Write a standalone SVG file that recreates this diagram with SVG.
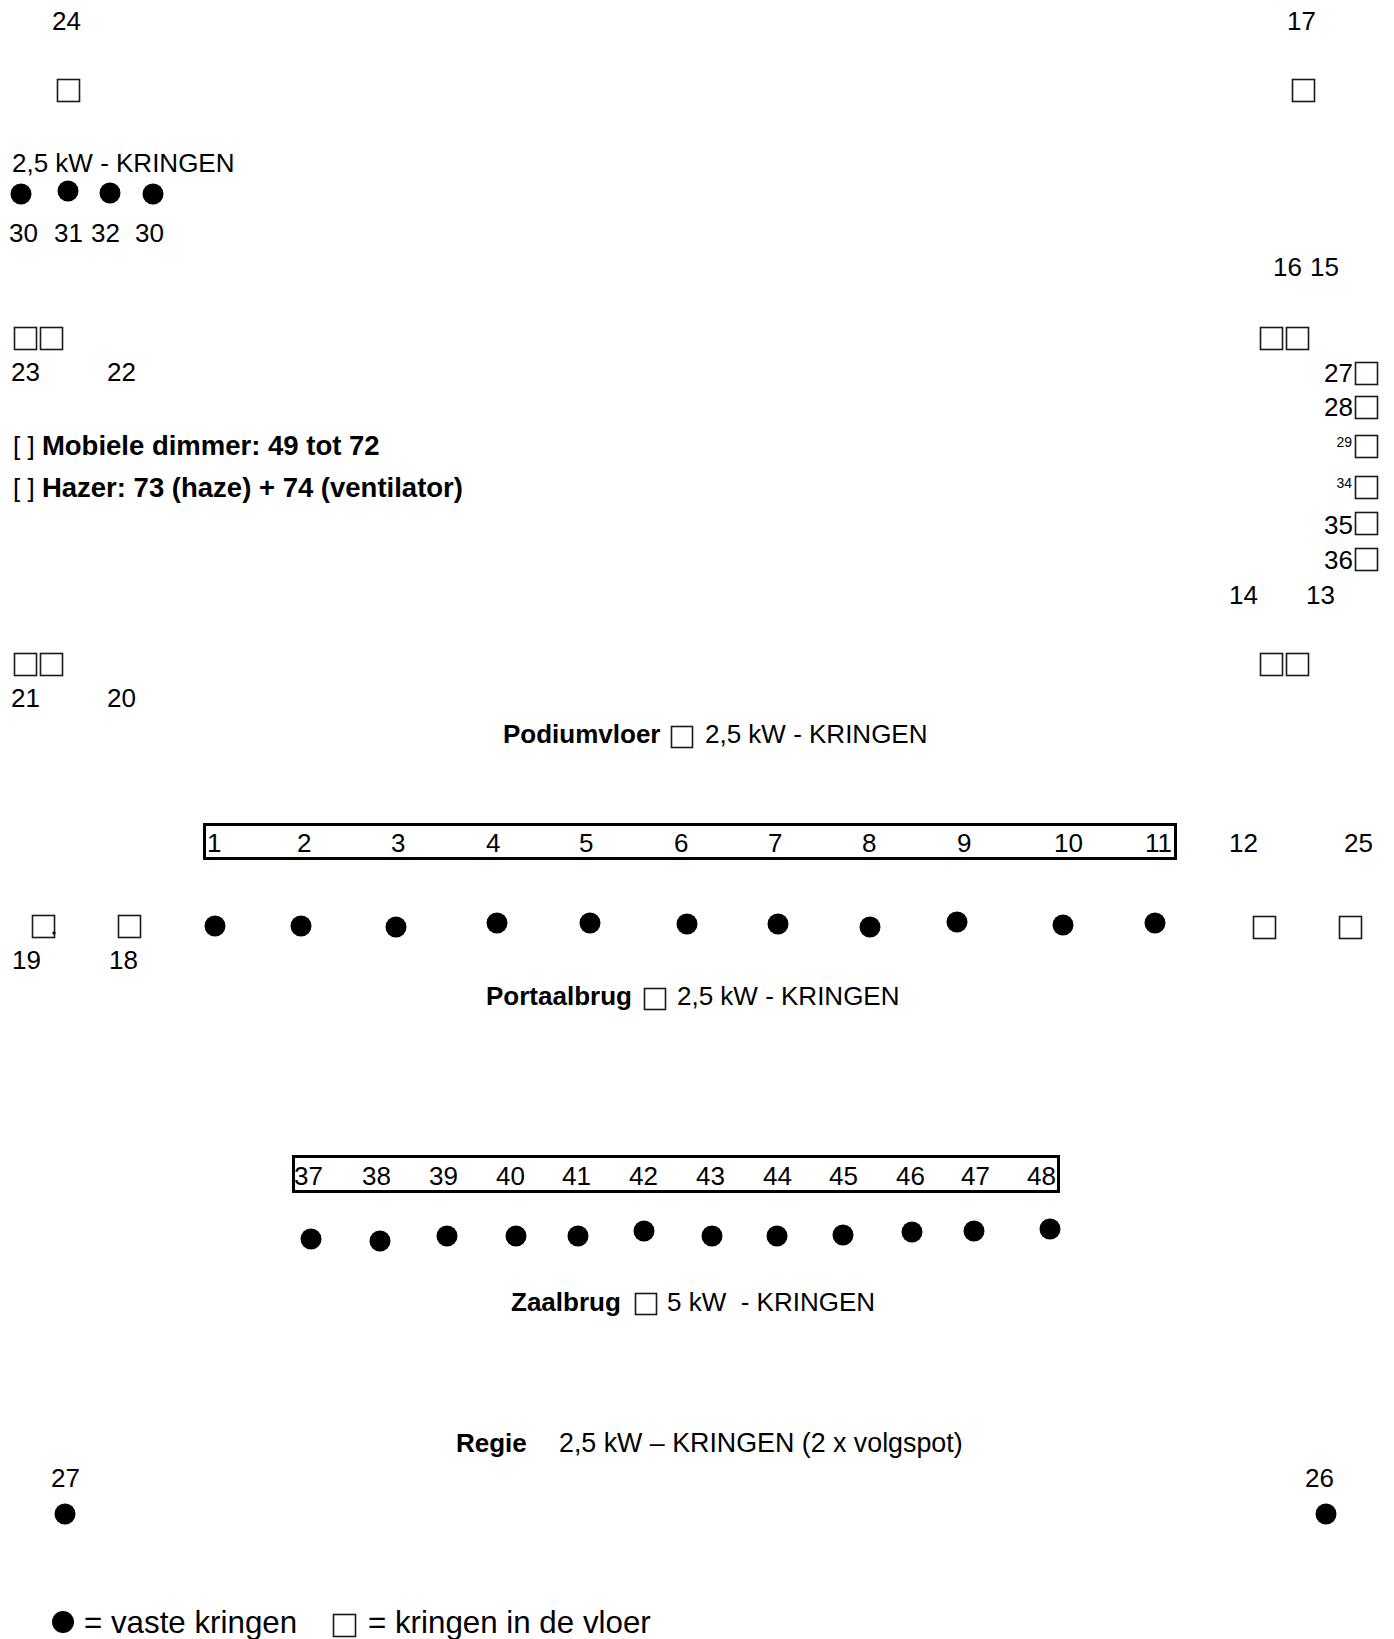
<svg xmlns="http://www.w3.org/2000/svg" width="1394" height="1639" viewBox="0 0 1394 1639">
<style>
text { font-family: "Liberation Sans", Arial, sans-serif; font-size: 26px; fill: #000; }
.b { font-weight: bold; }
.bl { font-weight: bold; font-size: 27.5px; }
.sm { font-size: 14px; }
.lg { font-size: 31.3px; }
.rg { font-size: 26.8px; }
.sq { fill: #fff; stroke: #1a1a1a; stroke-width: 1.6; }
.dot { fill: #000; }
.bar { fill: none; stroke: #000; stroke-width: 3; }
</style>
<rect x="0" y="0" width="1394" height="1639" fill="#fff"/>

<g id="top-left">
  <text x="52" y="30">24</text>
  <rect class="sq" x="57.5" y="79.5" width="22" height="22"/>
  <text x="12" y="172">2,5 kW - KRINGEN</text>
  <circle class="dot" cx="21" cy="194" r="10.5"/>
  <circle class="dot" cx="68" cy="191" r="10.5"/>
  <circle class="dot" cx="110" cy="193" r="10.5"/>
  <circle class="dot" cx="153" cy="194" r="10.5"/>
  <text x="9" y="242">30</text>
  <text x="54" y="242">31</text>
  <text x="91" y="242">32</text>
  <text x="135" y="242">30</text>
</g>

<g id="top-right">
  <text x="1287" y="30">17</text>
  <rect class="sq" x="1292.5" y="79.5" width="22" height="22"/>
  <text x="1273" y="276">16</text>
  <text x="1310" y="276">15</text>
  <rect class="sq" x="1260.5" y="327.5" width="22" height="22"/>
  <rect class="sq" x="1286.5" y="327.5" width="22" height="22"/>
</g>

<g id="left-23-22">
  <rect class="sq" x="14.5" y="327.5" width="22" height="22"/>
  <rect class="sq" x="40.5" y="327.5" width="22" height="22"/>
  <text x="11" y="381">23</text>
  <text x="107" y="381">22</text>
</g>

<g id="notes">
  <text x="13" y="455">[ ] <tspan class="bl">Mobiele dimmer: 49 tot 72</tspan></text>
  <text x="13" y="497">[ ] <tspan class="bl">Hazer: 73 (haze) + 74 (ventilator)</tspan></text>
</g>

<g id="right-column">
  <text x="1353" y="382" text-anchor="end">27</text>
  <rect class="sq" x="1355.5" y="362.5" width="22" height="22"/>
  <text x="1353" y="416" text-anchor="end">28</text>
  <rect class="sq" x="1355.5" y="396.5" width="22" height="22"/>
  <text class="sm" x="1352" y="447" text-anchor="end">29</text>
  <rect class="sq" x="1355.5" y="435.5" width="22" height="22"/>
  <text class="sm" x="1352" y="488" text-anchor="end">34</text>
  <rect class="sq" x="1355.5" y="476.5" width="22" height="22"/>
  <text x="1353" y="534" text-anchor="end">35</text>
  <rect class="sq" x="1355.5" y="512.5" width="22" height="22"/>
  <text x="1353" y="569" text-anchor="end">36</text>
  <rect class="sq" x="1355.5" y="548.5" width="22" height="22"/>
</g>

<g id="right-14-13">
  <text x="1229" y="604">14</text>
  <text x="1306" y="604">13</text>
  <rect class="sq" x="1260.5" y="653.5" width="22" height="22"/>
  <rect class="sq" x="1286.5" y="653.5" width="22" height="22"/>
</g>

<g id="left-21-20">
  <rect class="sq" x="14.5" y="653.5" width="22" height="22"/>
  <rect class="sq" x="40.5" y="653.5" width="22" height="22"/>
  <text x="11" y="707">21</text>
  <text x="107" y="707">20</text>
</g>

<g id="podiumvloer-title">
  <text class="b" x="503" y="743">Podiumvloer</text>
  <rect class="sq" x="671.5" y="726.5" width="21" height="21"/>
  <text x="705" y="743">2,5 kW - KRINGEN</text>
</g>

<g id="bars">
  <rect class="bar" x="204.5" y="824.5" width="971" height="34"/>
  <rect class="bar" x="293.5" y="1156.5" width="765" height="35"/>
</g>

<g id="podium-row">
  <text x="207" y="852">1</text>
  <text x="297" y="852">2</text>
  <text x="391" y="852">3</text>
  <text x="486" y="852">4</text>
  <text x="579" y="852">5</text>
  <text x="674" y="852">6</text>
  <text x="768" y="852">7</text>
  <text x="862" y="852">8</text>
  <text x="957" y="852">9</text>
  <text x="1054" y="852">10</text>
  <text x="1145" y="852">11</text>
  <text x="1229" y="852">12</text>
  <text x="1344" y="852">25</text>
  <circle class="dot" cx="215" cy="926" r="10.5"/>
  <circle class="dot" cx="301" cy="926" r="10.5"/>
  <circle class="dot" cx="396" cy="927" r="10.5"/>
  <circle class="dot" cx="497" cy="923" r="10.5"/>
  <circle class="dot" cx="590" cy="923" r="10.5"/>
  <circle class="dot" cx="687" cy="924" r="10.5"/>
  <circle class="dot" cx="778" cy="924" r="10.5"/>
  <circle class="dot" cx="870" cy="927" r="10.5"/>
  <circle class="dot" cx="957" cy="922" r="10.5"/>
  <circle class="dot" cx="1063" cy="925" r="10.5"/>
  <circle class="dot" cx="1155" cy="923" r="10.5"/>
  <rect class="sq" x="1253.5" y="916.5" width="22" height="22"/>
  <rect class="sq" x="1339.5" y="916.5" width="22" height="22"/>
</g>

<g id="left-19-18">
  <rect class="sq" x="32.5" y="915.5" width="22" height="22"/>
  <circle class="dot" cx="54" cy="933" r="1.6"/>
  <rect class="sq" x="118.5" y="915.5" width="22" height="22"/>
  <text x="12" y="969">19</text>
  <text x="109" y="969">18</text>
</g>

<g id="portaalbrug-title">
  <text class="b" x="486" y="1005">Portaalbrug</text>
  <rect class="sq" x="644.5" y="988.5" width="21" height="21"/>
  <text x="677" y="1005">2,5 kW - KRINGEN</text>
</g>

<g id="portaal-row">
  <text x="294" y="1185">37</text>
  <text x="362" y="1185">38</text>
  <text x="429" y="1185">39</text>
  <text x="496" y="1185">40</text>
  <text x="562" y="1185">41</text>
  <text x="629" y="1185">42</text>
  <text x="696" y="1185">43</text>
  <text x="763" y="1185">44</text>
  <text x="829" y="1185">45</text>
  <text x="896" y="1185">46</text>
  <text x="961" y="1185">47</text>
  <text x="1027" y="1185">48</text>
  <circle class="dot" cx="311" cy="1239" r="10.5"/>
  <circle class="dot" cx="380" cy="1241" r="10.5"/>
  <circle class="dot" cx="447" cy="1236" r="10.5"/>
  <circle class="dot" cx="516" cy="1236" r="10.5"/>
  <circle class="dot" cx="578" cy="1236" r="10.5"/>
  <circle class="dot" cx="644" cy="1231" r="10.5"/>
  <circle class="dot" cx="712" cy="1236" r="10.5"/>
  <circle class="dot" cx="777" cy="1236" r="10.5"/>
  <circle class="dot" cx="843" cy="1235" r="10.5"/>
  <circle class="dot" cx="912" cy="1232" r="10.5"/>
  <circle class="dot" cx="974" cy="1231" r="10.5"/>
  <circle class="dot" cx="1050" cy="1229" r="10.5"/>
</g>

<g id="zaalbrug-title">
  <text class="b" x="511" y="1311">Zaalbrug</text>
  <rect class="sq" x="635.5" y="1293.5" width="21" height="21"/>
  <text x="667" y="1311" xml:space="preserve">5 kW  - KRINGEN</text>
</g>

<g id="regie">
  <text class="b" x="456" y="1452">Regie</text>
  <text class="rg" x="559" y="1452">2,5 kW – KRINGEN (2 x volgspot)</text>
  <text x="51" y="1487">27</text>
  <circle class="dot" cx="65" cy="1514" r="10.5"/>
  <text x="1305" y="1487">26</text>
  <circle class="dot" cx="1326" cy="1514" r="10.5"/>
</g>

<g id="legend">
  <circle class="dot" cx="63" cy="1622" r="11"/>
  <text class="lg" x="84" y="1633">= vaste kringen</text>
  <rect class="sq" x="333.5" y="1614.5" width="22" height="22"/>
  <text class="lg" x="368" y="1633">= kringen in de vloer</text>
</g>
</svg>
